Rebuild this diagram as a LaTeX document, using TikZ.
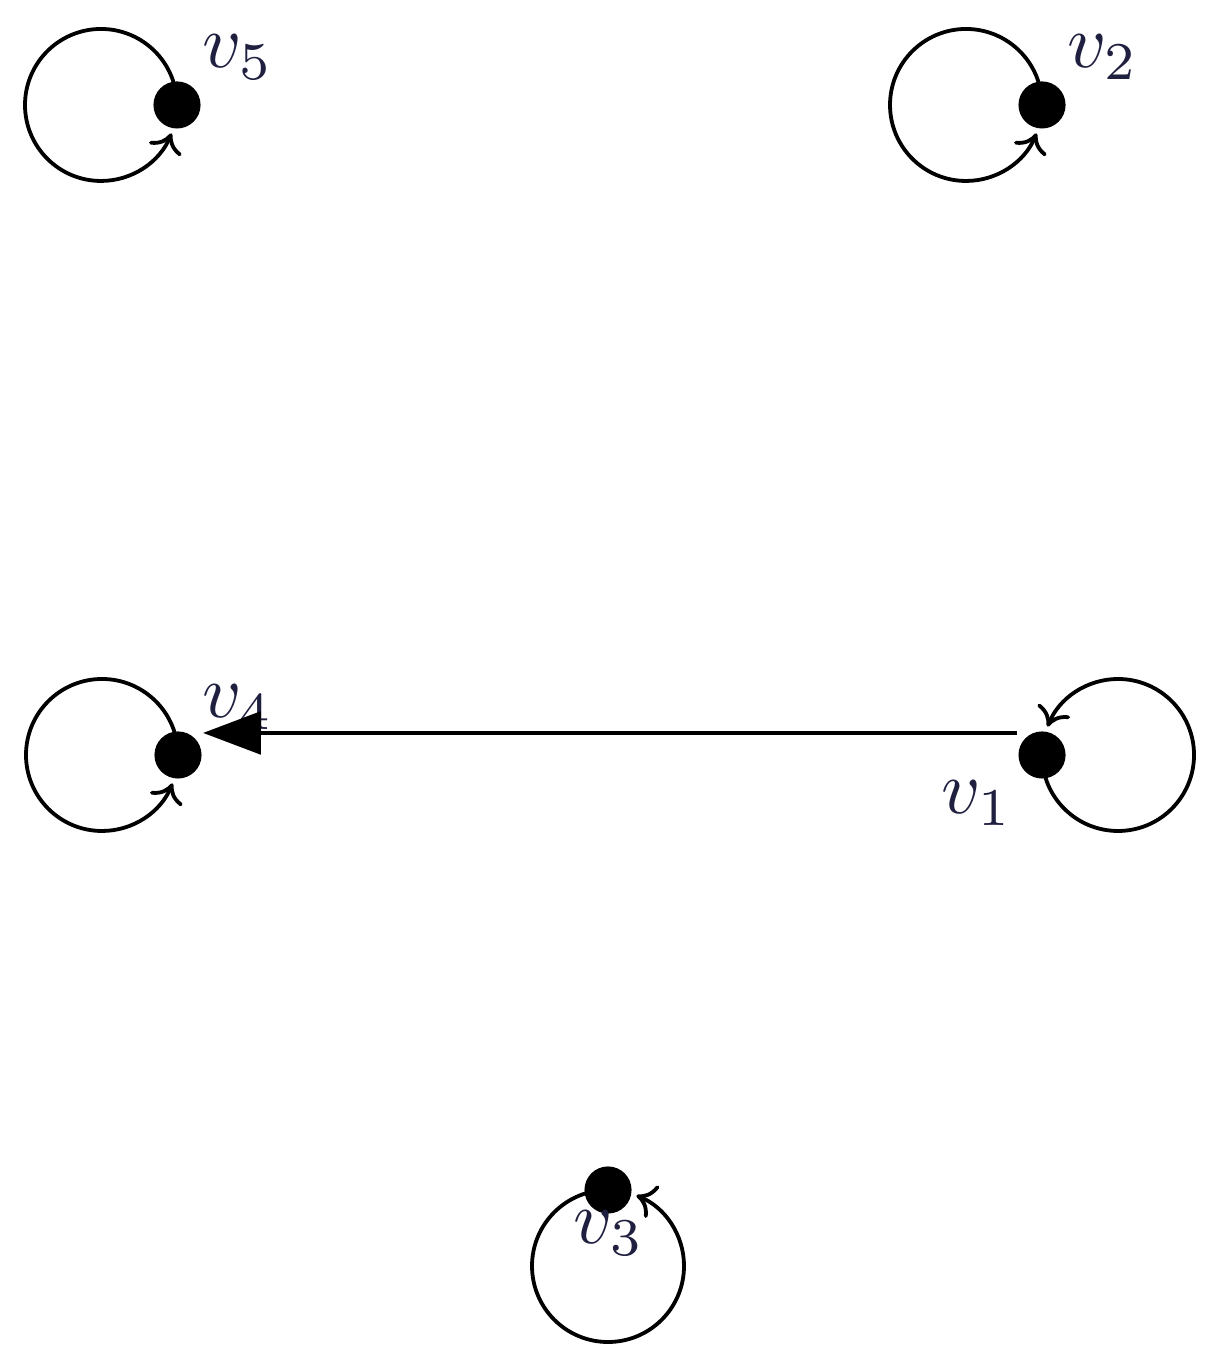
\documentclass[tikz,border=0pt]{standalone}
\usetikzlibrary{arrows.meta,backgrounds}
\definecolor{lab}{rgb}{0.12,0.12,0.25}
\begin{document}
\begin{tikzpicture}[x=0.1316pt,y=0.1316pt,
  dot/.style={circle,fill=black,inner sep=0pt,minimum size=6.2pt},
  selfloop/.style={line width=0.5pt,-{To[length=2.4pt,width=4.6pt]}},
  lbl/.style={text=lab,inner sep=0pt},
  edgestyle/.style={line width=0.5pt,-{Triangle[length=7.6pt,width=5.6pt]}}]
\useasboundingbox (0,0) rectangle (1219,1357);
% vertices
\node[dot] (v5) at (177,1252) {};
\node[dot] (v2) at (1042,1252) {};
\node[dot] (v4) at (178,602) {};
\node[dot] (v1) at (1042,602) {};
\node[dot] (v3) at (608,167) {};
% labels
\node[lbl] (l5) at (238,1300) {$v_5$};
\node[lbl] (l2) at (1103,1300) {$v_2$};
\node[lbl] (l1) at (977,554) {$v_1$};
\node[lbl] (l3) at (609,124) {$v_3$};
\begin{scope}[on background layer]
\node[lbl] (l4) at (238,650) {$v_4$};
\draw[selfloop] (v5.center) arc[start angle=0,end angle=338,radius=76];
\draw[selfloop] (v2.center) arc[start angle=0,end angle=338,radius=76];
\draw[selfloop] (v4.center) arc[start angle=0,end angle=338,radius=76];
\draw[selfloop] (v1.center) arc[start angle=180,end angle=518,radius=76];
\draw[selfloop] (v3.center) arc[start angle=90,end angle=428,radius=76];
\end{scope}
\draw[edgestyle] ([yshift=2.9pt]v1.west) -- ([yshift=2.9pt]v4.east);
\end{tikzpicture}
\end{document}
